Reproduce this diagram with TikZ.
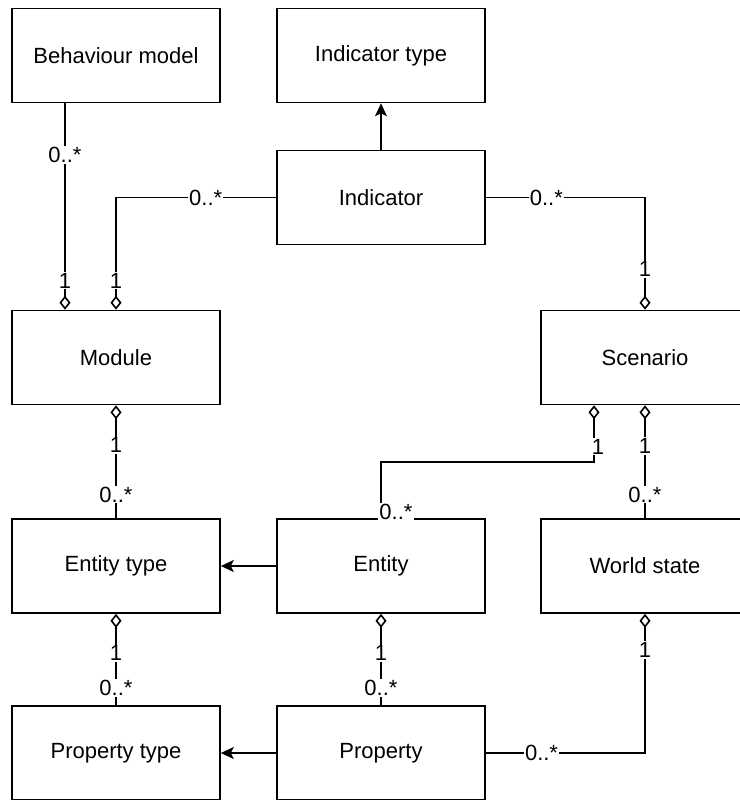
\documentclass[tikz,border=0pt]{standalone}
\usepackage{fontspec}
\setmainfont{Liberation Sans}
\usetikzlibrary{arrows.meta}
\tikzstyle{cls} = [draw=black, line width=1.6pt, minimum width=208pt, minimum height=94pt, font={\fontsize{22}{26}\selectfont}]
\tikzstyle{mult} = [fill=white, inner sep=1pt, font={\fontsize{22}{26}\selectfont}]
\tikzstyle{agg} = [line width=1.6pt, -{Diamond[open,length=14pt,width=11pt]}]
\tikzstyle{ref} = [line width=1.6pt, -{Stealth[length=13pt,width=12pt,inset=3pt]}]

\begin{document}
\begin{tikzpicture}[x=1pt,y=-1pt]
    \useasboundingbox (0,0) rectangle (739,800);
    \node[cls](bm) at (116,55.5){Behaviour model};
    \node[cls](itype) at (381,55.5){Indicator type};
    \node[cls](ind) at (381,197.5){Indicator};
    \node[cls](mod) at (116,357.5){Module};
    \node[cls](scn) at (645,357.5){Scenario};
    \node[cls](etype) at (116,566){Entity type};
    \node[cls](ent) at (381,566){Entity};
    \node[cls](ws) at (645,566){World state};
    \node[cls](ptype) at (116,753){Property type};
    \node[cls](prop) at (381,753){Property};
    \coordinate (sbend) at (594,462);
    \draw[ref](ind)--(itype);
    \draw[ref](ent)--(etype);
    \draw[ref](prop)--(ptype);
    \draw[agg]([xshift=-51pt]bm.south)--([xshift=-51pt]mod.north)
        node[mult,pos=0.25]{0..*} node[mult,pos=0.86]{1};
    \draw[agg](ind.west)-|(mod.north)
        node[mult,pos=0.22]{0..*} node[mult,pos=0.87]{1};
    \draw[agg](ind.east)-|(scn.north)
        node[mult,pos=0.19]{0..*} node[mult,pos=0.82]{1};
    \draw[agg](etype)--(mod)
        node[mult,pos=0.21]{0..*} node[mult,pos=0.645]{1};
    \draw[agg](ent.north)|-node[mult,pos=0.06,xshift=15pt]{0..*}(sbend)
        --node[mult,pos=0.27,xshift=4pt]{1}([xshift=-51pt]scn.south);
    \draw[agg](ws)--(scn)
        node[mult,pos=0.21]{0..*} node[mult,pos=0.64]{1};
    \draw[agg](ptype)--(etype)
        node[mult,pos=0.19]{0..*} node[mult,pos=0.57]{1};
    \draw[agg](prop)--(ent)
        node[mult,pos=0.19]{0..*} node[mult,pos=0.57]{1};
    \draw[agg](prop.east)-|(ws.south)
        node[mult,pos=0.175]{0..*} node[mult,pos=0.87]{1};
\end{tikzpicture}
\end{document}
